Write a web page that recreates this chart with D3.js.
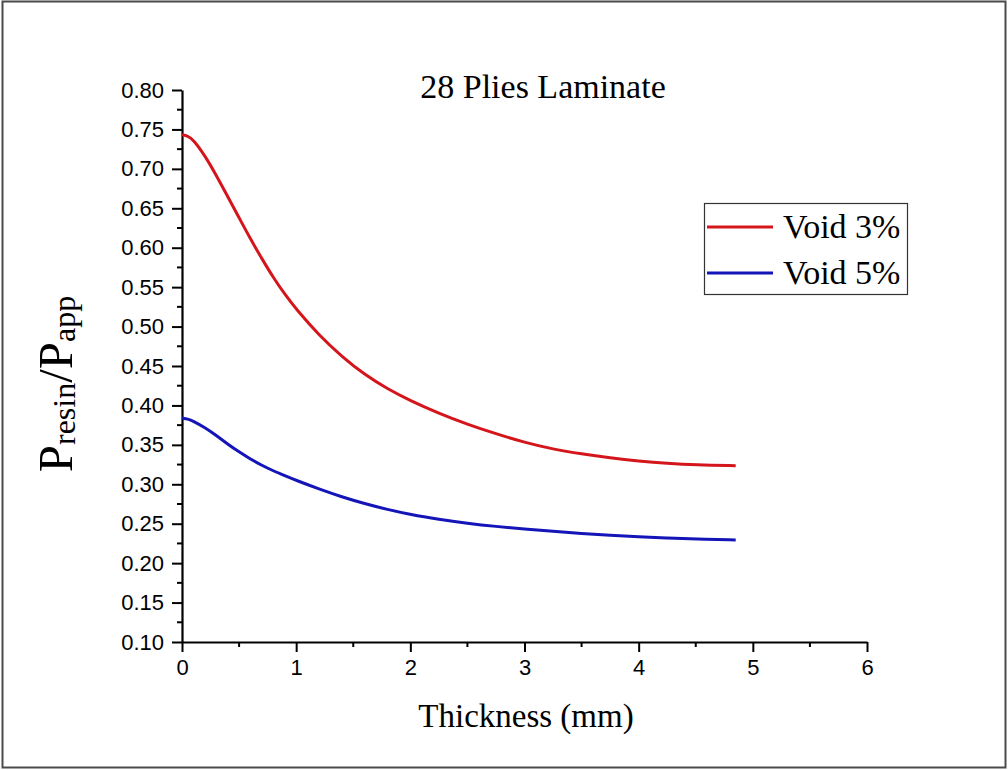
<!DOCTYPE html>
<html><head><meta charset="utf-8">
<script src="https://cdn.jsdelivr.net/npm/d3@7"></script>
<style>body{margin:0;background:#fff}svg{display:block}</style>
</head><body>
<svg id="chart" width="1008" height="770"></svg>
<script>
const chartTitle = "28 Plies Laminate";
const xLabel = "Thickness (mm)";
const seriesNames = ["Void 3%", "Void 5%"];
const seriesColors = ["#d4161c", "#1414b8"];
const xTicks = [0, 1, 2, 3, 4, 5, 6];
const yTicks = [0.10,0.15,0.20,0.25,0.30,0.35,0.40,0.45,0.50,0.55,0.60,0.65,0.70,0.75,0.80];

const thickness = [0,0.05,0.1,0.2,0.3,0.4,0.5,0.6,0.7,0.8,0.9,1.0,1.2,1.4,1.6,1.8,2.0,2.25,2.5,2.75,3.0,3.25,3.5,3.75,4.0,4.25,4.5,4.85];
const void3 = [0.743,0.742,0.737,0.717,0.692,0.665,0.638,0.611,0.586,0.562,0.541,0.522,0.489,0.462,0.439,0.421,0.406,0.390,0.376,0.364,0.353,0.3445,0.3385,0.3335,0.3295,0.3265,0.3245,0.3235];
const void5 = [0.384,0.383,0.380,0.372,0.362,0.351,0.341,0.332,0.324,0.317,0.311,0.305,0.294,0.284,0.2755,0.268,0.2615,0.2555,0.2505,0.2465,0.2432,0.2403,0.2375,0.2352,0.2333,0.2318,0.2305,0.2295];

const svg = d3.select("#chart");
const x = d3.scaleLinear().domain([0, 6]).range([182, 867]);
const y = d3.scaleLinear().domain([0.10, 0.80]).range([642, 90]);

// outer frame
svg.append("rect").attr("x", 2.5).attr("y", 1.5).attr("width", 1003).attr("height", 766)
  .attr("fill", "none").attr("stroke", "#4a4a4a").attr("stroke-width", 2);

const sans = "'Liberation Sans', Arial, sans-serif";
const serif = "'Liberation Serif', 'Times New Roman', serif";

// minor ticks
const xMinor = d3.range(0.5, 6, 1);
const yMinor = d3.range(0.125, 0.8, 0.05);
svg.append("g").selectAll("line").data(xMinor).join("line")
  .attr("x1", d => x(d)).attr("x2", d => x(d)).attr("y1", 642).attr("y2", 647)
  .attr("stroke", "#000").attr("stroke-width", 2);
svg.append("g").selectAll("line").data(yMinor).join("line")
  .attr("y1", d => y(d)).attr("y2", d => y(d)).attr("x1", 182).attr("x2", 177)
  .attr("stroke", "#000").attr("stroke-width", 2);

// axes
const xAxis = svg.append("g").attr("transform", "translate(0,642)")
  .call(d3.axisBottom(x).tickValues(xTicks).tickFormat(d3.format("d")).tickSize(10).tickSizeOuter(0).tickPadding(7));
const yAxis = svg.append("g").attr("transform", "translate(182,0)")
  .call(d3.axisLeft(y).tickValues(yTicks).tickFormat(d3.format(".2f")).tickSize(10).tickSizeOuter(0).tickPadding(8));
[xAxis, yAxis].forEach(a => {
  a.select(".domain").attr("stroke", "#000").attr("stroke-width", 2.2);
  a.selectAll(".tick line").attr("stroke", "#000").attr("stroke-width", 2);
  a.selectAll("text").attr("font-family", sans).attr("font-size", 22).attr("fill", "#000");
});

// lines
const line = d3.line().x(d => x(d[0])).y(d => y(d[1])).curve(d3.curveBasis);
const series = [void3, void5].map(v => thickness.map((t, i) => [t, v[i]]));
series.forEach((d, i) => {
  svg.append("path").datum(d).attr("d", line).attr("fill", "none")
    .attr("stroke", seriesColors[i]).attr("stroke-width", 3).attr("stroke-linejoin", "round");
});

// title
svg.append("text").attr("x", 543).attr("y", 98).attr("text-anchor", "middle")
  .attr("font-family", serif).attr("font-size", 34).attr("fill", "#000").text(chartTitle);

// x label
svg.append("text").attr("x", 526).attr("y", 727).attr("text-anchor", "middle")
  .attr("font-family", serif).attr("font-size", 33).attr("fill", "#000").text(xLabel);

// y label with subscripts
const yl = svg.append("text").attr("transform", "translate(72,384) rotate(-90)")
  .attr("text-anchor", "middle").attr("font-family", serif).attr("fill", "#000");
yl.append("tspan").attr("font-size", 49).text("P");
yl.append("tspan").attr("font-size", 32).attr("dy", 3).text("resin");
yl.append("tspan").attr("font-size", 49).attr("dy", -3).text("/P");
yl.append("tspan").attr("font-size", 32).attr("dy", 3).text("app");

// legend
const lg = svg.append("g");
lg.append("rect").attr("x", 704.5).attr("y", 203.5).attr("width", 203).attr("height", 91)
  .attr("fill", "#fff").attr("stroke", "#333").attr("stroke-width", 1.2);
seriesNames.forEach((n, i) => {
  const cy = 227 + i * 46;
  lg.append("line").attr("x1", 707).attr("x2", 773).attr("y1", cy).attr("y2", cy)
    .attr("stroke", seriesColors[i]).attr("stroke-width", 3);
  lg.append("text").attr("x", 783).attr("y", cy + 11).attr("font-family", serif)
    .attr("font-size", 34).attr("fill", "#000").text(n);
});
</script>
</body></html>
